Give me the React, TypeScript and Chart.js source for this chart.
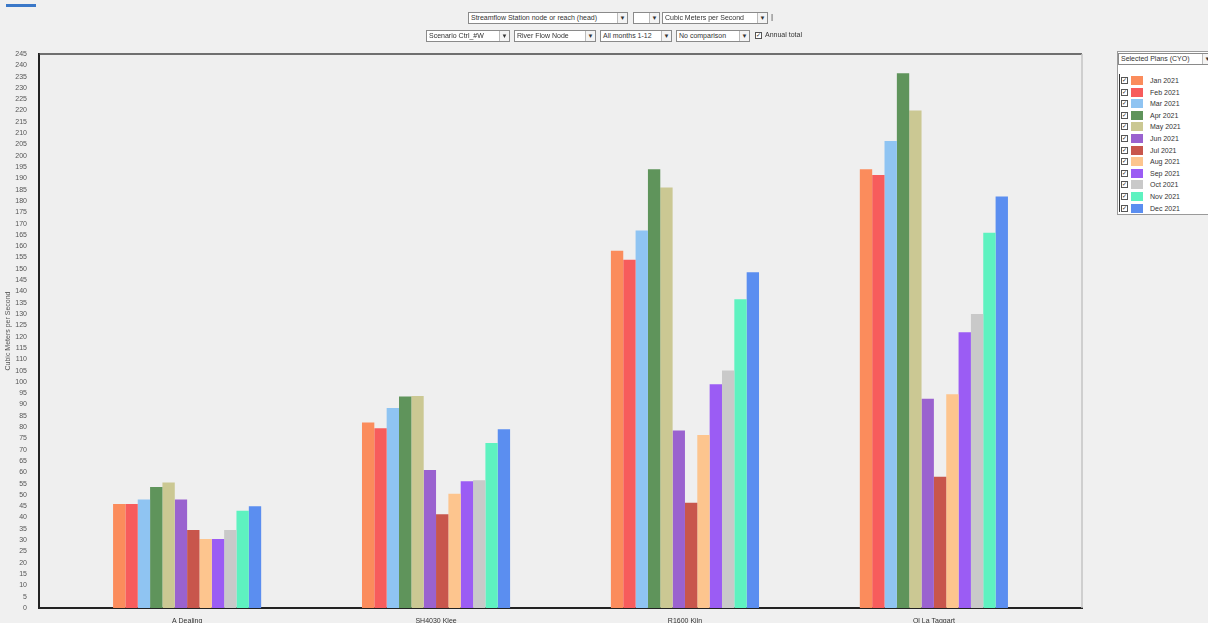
import React, { useEffect, useRef } from "react";
import { Chart, registerables } from "chart.js";

Chart.register(...registerables);

// ---------- data ----------
const categories = ["A Dealing", "SH4030 Klee", "R1600 Kiln", "Ol La Taggart"];
const months = [
  "Jan 2021", "Feb 2021", "Mar 2021", "Apr 2021", "May 2021", "Jun 2021",
  "Jul 2021", "Aug 2021", "Sep 2021", "Oct 2021", "Nov 2021", "Dec 2021",
];
const monthColors = [
  "#fb8c5c", "#f75c5c", "#8fc4f2", "#5f945b", "#cbc893", "#9a62cf",
  "#c8564c", "#fdc58e", "#9b5cf4", "#c9c9c9", "#5ef2c0", "#5b8ef0",
];
const jan = [46, 82, 158, 194];
const feb = [46, 79.5, 154, 191.5];
const mar = [48, 88.5, 167, 206.5];
const apr = [53.5, 93.5, 194, 236.5];
const may = [55.5, 93.8, 186, 220];
const jun = [48, 61, 78.5, 92.5];
const jul = [34.5, 41.5, 46.5, 58];
const aug = [30.5, 50.5, 76.5, 94.5];
const sep = [30.5, 56, 99, 122];
const oct = [34.5, 56.5, 105, 130];
const nov = [43, 73, 136.5, 166];
const dec = [45, 79, 148.5, 182];
const series = [jan, feb, mar, apr, may, jun, jul, aug, sep, oct, nov, dec];

const yMin = 0;
const yMax = 245;
const yStep = 5;
const yTitle = "Cubic Meters per Second";

const row1Controls = ["Streamflow Station node or reach (head)", "", "Cubic Meters per Second"];
const row2Controls = ["Scenario Ctrl_#W", "River Flow Node", "All months 1-12", "No comparison"];
const annualTotalLabel = "Annual total";
const legendTitle = "Selected Plans (CYO)";

const FONT = "'Liberation Sans', Arial, sans-serif";

const framePlugin = {
  id: "frame",
  beforeDraw(chart: any) {
    const { ctx, chartArea } = chart;
    const { left, top, right, bottom } = chartArea;
    ctx.save();
    ctx.fillStyle = "#efefef";
    ctx.fillRect(left, top, right - left, bottom - top);
    ctx.restore();
  },
  afterDraw(chart: any) {
    const { ctx, chartArea } = chart;
    const { left, top, right, bottom } = chartArea;
    ctx.save();
    ctx.strokeStyle = "#444";
    ctx.lineWidth = 1.5;
    ctx.beginPath();
    ctx.moveTo(left, top);
    ctx.lineTo(right, top);
    ctx.stroke();
    ctx.strokeStyle = "#c4c4c4";
    ctx.lineWidth = 1.5;
    ctx.beginPath();
    ctx.moveTo(right, top);
    ctx.lineTo(right, bottom);
    ctx.stroke();
    ctx.restore();
  },
};

function Sel({ x, y, w, text }: { x: number; y: number; w: number; text: string }) {
  return (
    <div
      style={{
        position: "absolute",
        left: x,
        top: y,
        width: w,
        height: 12,
        boxSizing: "border-box",
        border: "1px solid #8a8a8a",
        background: "#fff",
        fontFamily: FONT,
        fontSize: 7,
        lineHeight: "10px",
        color: "#333",
        paddingLeft: 2,
        whiteSpace: "nowrap",
        overflow: "hidden",
      }}
    >
      {text}
      <div
        style={{
          position: "absolute",
          right: 0,
          top: 0,
          width: 9,
          height: 10,
          borderLeft: "1px solid #bbb",
          background: "#f4f4f4",
          fontSize: 6,
          textAlign: "center",
          lineHeight: "10px",
        }}
      >
        ▼
      </div>
    </div>
  );
}

function Check({ x, y }: { x: number; y: number }) {
  return (
    <div
      style={{
        position: "absolute",
        left: x,
        top: y,
        width: 7,
        height: 7,
        boxSizing: "border-box",
        border: "1px solid #555",
        background: "#fff",
        fontSize: 6,
        lineHeight: "5px",
        textAlign: "center",
        color: "#222",
      }}
    >
      ✓
    </div>
  );
}

export default function App() {
  const canvasRef = useRef<HTMLCanvasElement | null>(null);

  useEffect(() => {
    if (!canvasRef.current) return;
    const chart = new Chart(canvasRef.current, {
      type: "bar",
      data: {
        datasets: months.map((m, i) => ({
          label: m,
          data: categories.map((_, j) => ({ x: j, y: series[i][j] })),
          backgroundColor: monthColors[i],
          borderWidth: 0,
          categoryPercentage: 0.595,
          barPercentage: 1,
        })),
      },
      options: {
        animation: false,
        responsive: false,
        maintainAspectRatio: false,
        layout: { padding: { top: 54, right: 126, left: 0, bottom: 0 } },
        plugins: { legend: { display: false }, tooltip: { enabled: false } },
        scales: {
          x: {
            type: "linear",
            min: -0.595,
            max: 3.595,
            offset: false,
            afterBuildTicks: (s: any) => {
              s.ticks = categories.map((_, i) => ({ value: i }));
            },
            afterFit: (s: any) => {
              s.height = 15;
            },
            ticks: {
              autoSkip: false,
              maxRotation: 0,
              padding: 1,
              color: "#333",
              font: { size: 7, family: FONT },
              callback: (v: any) => categories[v as number] ?? "",
            },
            grid: { display: false },
            border: { display: true, color: "#222", width: 2 },
          },
          y: {
            min: yMin,
            max: yMax,
            afterFit: (s: any) => {
              s.width = 39;
            },
            ticks: {
              stepSize: yStep,
              autoSkip: false,
              padding: 4,
              color: "#555",
              font: { size: 7, family: FONT },
            },
            grid: { display: false },
            border: { display: true, color: "#222", width: 2 },
            title: {
              display: true,
              text: yTitle,
              color: "#555",
              font: { size: 7, family: FONT },
              padding: { top: 4, bottom: 0 },
            },
          },
        },
      },
      plugins: [framePlugin],
    } as any);
    return () => chart.destroy();
  }, []);

  const legendTop = 76;
  const legendStep = 11.6;

  return (
    <div
      style={{
        position: "fixed",
        left: 0,
        top: 0,
        width: 1208,
        height: 623,
        background: "#f0f0f0",
        overflow: "hidden",
        fontFamily: FONT,
      }}
    >
      <div style={{ position: "absolute", left: 6, top: 4, width: 30, height: 3, background: "#3a78c8" }} />
      <canvas ref={canvasRef} width={1208} height={623} style={{ position: "absolute", left: 0, top: 0 }} />

      {/* top controls */}
      <Sel x={468} y={12} w={160} text={row1Controls[0]} />
      <Sel x={633} y={12} w={27} text={row1Controls[1]} />
      <Sel x={662} y={12} w={106} text={row1Controls[2]} />
      <div style={{ position: "absolute", left: 771, top: 12, fontSize: 8, color: "#333" }}>|</div>
      <Sel x={426} y={30} w={84} text={row2Controls[0]} />
      <Sel x={514} y={30} w={82} text={row2Controls[1]} />
      <Sel x={600} y={30} w={72} text={row2Controls[2]} />
      <Sel x={676} y={30} w={74} text={row2Controls[3]} />
      <Check x={755} y={32} />
      <div style={{ position: "absolute", left: 765, top: 31, fontSize: 7, color: "#333", whiteSpace: "nowrap" }}>
        {annualTotalLabel}
      </div>

      {/* legend */}
      <div
        style={{
          position: "absolute",
          left: 1117,
          top: 51,
          width: 100,
          height: 164,
          boxSizing: "border-box",
          border: "1px solid #9a9a9a",
          background: "#fff",
        }}
      />
      <Sel x={1118} y={53} w={95} text={legendTitle} />
      <div style={{ position: "absolute", left: 1119, top: 74, width: 1, height: 138, background: "#333" }} />
      {months.map((m, i) => {
        const y = legendTop + i * legendStep;
        return (
          <React.Fragment key={m}>
            <Check x={1121} y={y + 1} />
            <div
              style={{
                position: "absolute",
                left: 1131,
                top: y,
                width: 12,
                height: 9,
                background: monthColors[i],
              }}
            />
            <div
              style={{
                position: "absolute",
                left: 1150,
                top: y,
                fontSize: 7,
                lineHeight: "9px",
                color: "#333",
                whiteSpace: "nowrap",
              }}
            >
              {m}
            </div>
          </React.Fragment>
        );
      })}
    </div>
  );
}
